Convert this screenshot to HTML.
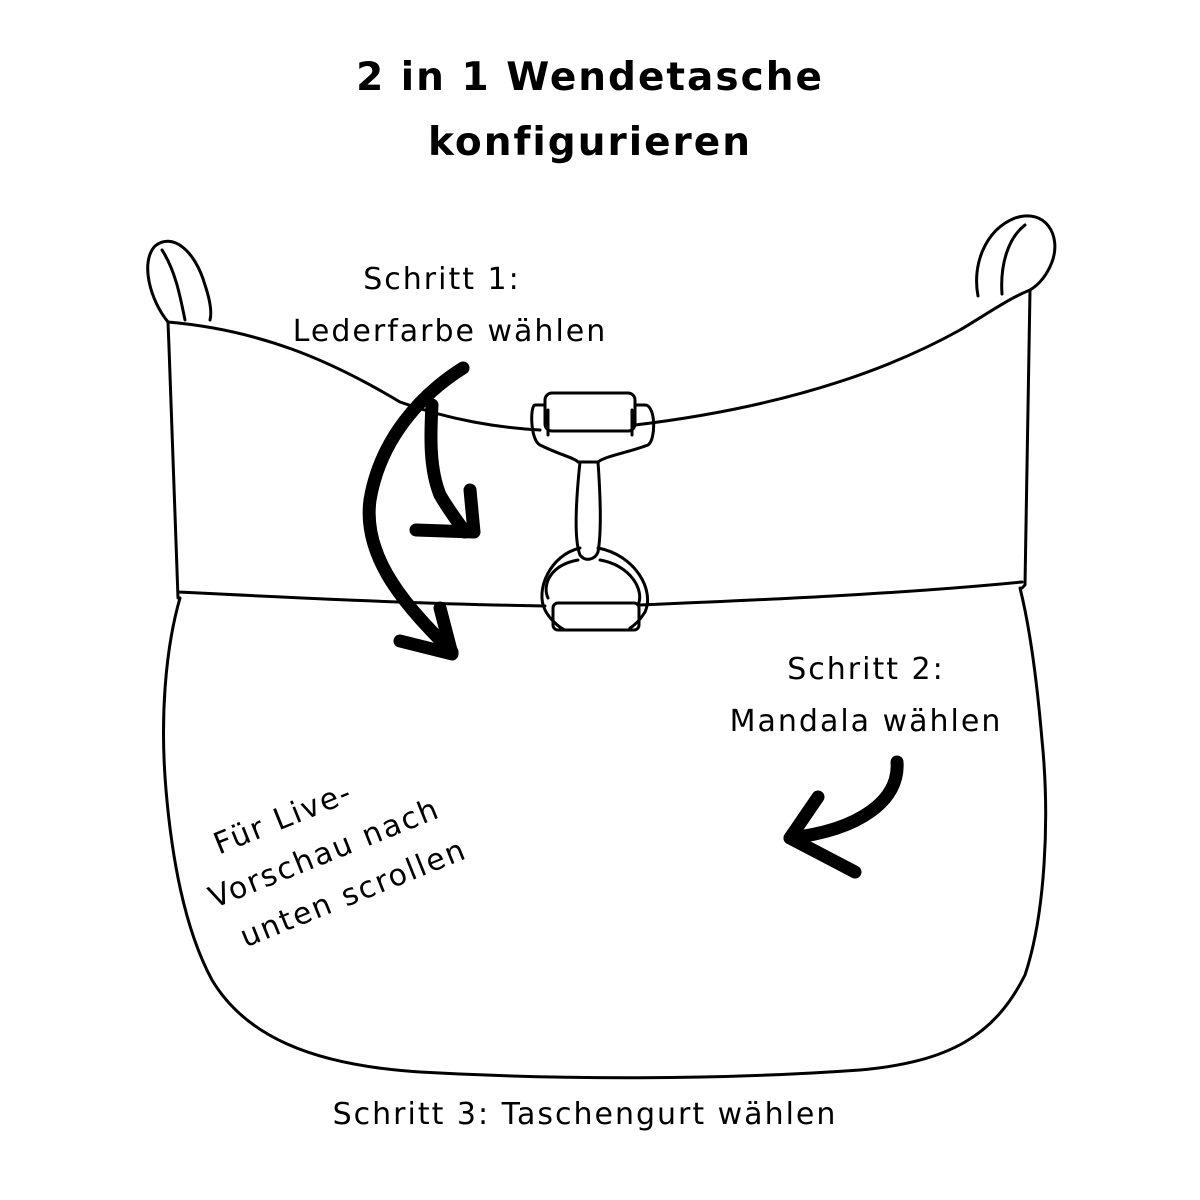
<!DOCTYPE html>
<html><head><meta charset="utf-8"><style>
html,body{margin:0;padding:0;background:#fff;}
svg{display:block;}
text{font-family:"DejaVu Sans","Liberation Sans",sans-serif;fill:#000;}
</style></head><body>
<svg width="1200" height="1200" viewBox="0 0 1200 1200" xmlns="http://www.w3.org/2000/svg">
<rect width="1200" height="1200" fill="#fff"/>
<text x="590" y="90" font-size="39" font-weight="bold" text-anchor="middle" letter-spacing="2">2 in 1 Wendetasche</text>
<text x="590" y="155" font-size="39" font-weight="bold" text-anchor="middle" letter-spacing="2">konfigurieren</text>

<g fill="none" stroke="#000" stroke-width="3" stroke-linejoin="round" stroke-linecap="round">
<!-- loops -->
<path d="M168,322 C150,300 140,262 155,246 C172,232 195,250 205,285 C210,300 212,312 210,320"/>
<path d="M185,320 C180,295 175,270 162,250"/>
<path d="M978,296 C972,265 985,230 1015,218 C1045,208 1062,235 1052,262 C1045,280 1035,287 1030,290"/>
<path d="M1002,294 C1000,265 1008,238 1025,225"/>
<!-- flap -->
<path d="M168,322 C260,330 330,360 400,402 C450,420 500,428 540,430 M635,425 C760,410 870,380 960,330 C990,312 1010,298 1030,290 L1025,585 L1022,588"/>
<path d="M168,322 C172,420 175,520 178,598"/>
<!-- band bottom -->
<path d="M178,592 C300,598 420,604 545,606 M640,605 C760,600 900,594 1022,582"/>
<!-- body -->
<path d="M180,598 C165,650 160,720 166,790 C172,860 185,930 212,980 C245,1035 310,1065 420,1072 C560,1080 720,1080 860,1070 C950,1062 995,1035 1025,975 C1045,915 1050,820 1042,740 C1036,670 1028,620 1020,588"/>
<!-- clasp -->
<rect x="545" y="393" width="90" height="38" rx="7"/>
<path d="M545,405 L535,405 C530,405 530,440 540,445 C560,455 575,458 578,462 L598,462 C605,456 630,452 648,445 C656,440 656,405 645,405 L635,405"/>
<path d="M548,410 L548,435 M632,410 L632,435"/>
<path d="M580,462 C576,500 574,540 580,555 C585,562 595,560 598,552 C602,530 600,490 598,462"/>
<path d="M580,548 C550,555 535,590 545,610 C550,620 560,628 565,630"/>
<path d="M598,548 C635,555 655,590 645,612 C640,620 635,625 630,628"/>
<path d="M548,598 C542,585 550,565 578,560 M600,560 C630,565 645,590 638,605"/>
<rect x="553" y="603" width="86" height="27" rx="5"/>
</g>

<!-- thick arrows -->
<g fill="none" stroke="#000" stroke-width="13" stroke-linecap="round" stroke-linejoin="round">
<path d="M463,368 C420,395 380,440 370,500 C362,560 410,610 452,652"/>
<path d="M400,641 L452,654 L440,608"/>
<path d="M432,405 C430,440 430,470 440,495 C450,512 458,522 465,532"/>
<path d="M416,530 L474,532 L470,490"/>
<path d="M897,762 C900,800 860,830 790,838"/>
<path d="M818,797 L790,838 L855,872"/>
</g>

<g font-size="30" letter-spacing="2" text-anchor="middle">
<text x="442" y="289">Schritt 1:</text>
<text x="450" y="341">Lederfarbe wählen</text>
<text x="866" y="679">Schritt 2:</text>
<text x="866" y="731">Mandala wählen</text>
<text x="585" y="1124">Schritt 3: Taschengurt wählen</text>
<g transform="translate(325,855) rotate(-22)">
<text x="-25" y="-40">Für Live-</text>
<text x="0" y="8">Vorschau nach</text>
<text x="12" y="56">unten scrollen</text>
</g>
</g>
</svg>
</body></html>
